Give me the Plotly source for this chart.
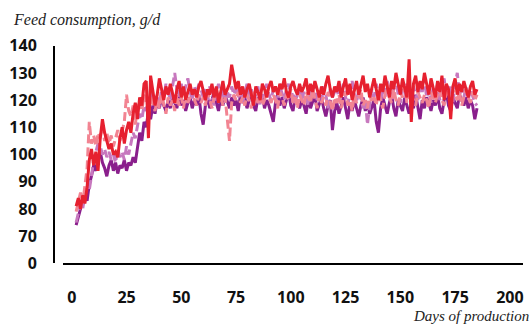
import plotly.graph_objects as go

# Day of production for every daily observation
days = list(range(2, 186))

# Daily feed consumption (g/d) per flock
red_solid = [
    81, 84, 80, 85, 82, 88, 98, 102, 96, 101, 94, 106, 113, 108,
    105, 102, 104, 100, 101, 99, 106, 110, 104, 109, 112, 108, 115, 119, 113,
    121, 118, 126, 127, 106, 129, 124, 118, 122, 128, 124, 120, 125, 122, 126,
    123, 119, 124, 127, 121, 125, 120, 123, 126, 122, 124, 121, 125, 127, 123,
    120, 124, 122, 126, 121, 125, 119, 123, 127, 122, 124, 126, 133, 128, 124,
    127, 122, 125, 121, 124, 126, 122, 118, 125, 123, 120, 126, 124, 121, 125,
    127, 123, 125, 122, 126, 124, 128, 123, 121, 125, 127, 124, 122, 126, 123,
    125, 128, 122, 126, 123, 127, 124, 121, 125, 122, 126, 129, 124, 121, 125,
    123, 127, 121, 125, 128, 122, 126, 120, 124, 127, 122, 125, 129, 123, 126,
    121, 125, 128, 124, 120, 126, 123, 129, 125, 121, 127, 124, 130, 126, 122,
    128, 125, 121, 135, 112, 126, 129, 123, 127, 124, 130, 126, 122, 128, 125,
    121, 127, 123, 129, 120, 126, 124, 113, 125, 128, 122, 126, 123, 127, 124,
    121, 125, 127, 122, 124,
]

purple_solid = [
    74, 77, 80, 84, 86, 83, 89, 92, 96, 94, 99, 101, 97, 95,
    92, 96, 98, 94, 97, 93, 96, 95, 98, 94, 97, 96, 99, 97, 103,
    108, 105, 112, 110, 116, 113, 118, 115, 120, 117, 121, 118, 116, 120, 117,
    121, 119, 117, 122, 118, 120, 116, 119, 121, 117, 120, 118, 122, 115, 111,
    118, 121, 117, 120, 123, 119, 116, 121, 118, 122, 119, 117, 121, 118, 120,
    116, 122, 119, 121, 117, 120, 123, 118, 116, 121, 119, 122, 117, 120, 118,
    115, 112, 119, 122, 118, 121, 117, 120, 123, 118, 116, 121, 119, 117, 120,
    118, 115, 121, 117, 120, 122, 116, 119, 121, 117, 114, 118, 120, 109, 116,
    119, 115, 118, 121, 117, 113, 119, 116, 120, 117, 114, 118, 121, 116, 119,
    115, 118, 120, 112, 108, 117, 121, 118, 115, 119, 122, 117, 114, 120, 118,
    116, 121, 118, 115, 119, 117, 122, 118, 113, 120, 117, 121, 119, 116, 120,
    118, 122, 117, 115, 120, 123, 118, 116, 121, 119, 117, 122, 120, 118, 121,
    117, 120, 118, 113, 117,
]

lilac_dashed = [
    75, 78, 82, 80, 85, 88, 87, 92, 98, 101, 104, 103, 100, 102,
    99, 101, 98, 100, 97, 102, 99, 101, 98, 103, 100, 104, 108, 106, 111,
    115, 113, 118, 116, 121, 119, 123, 120, 122, 118, 124, 121, 126, 123, 120,
    125, 130, 124, 121, 126, 122, 125, 128, 123, 120, 125, 122, 126, 124, 121,
    124, 120, 125, 122, 118, 123, 126, 121, 124, 119, 123, 121, 125, 122, 124,
    121, 125, 119, 123, 126, 121, 124, 120, 122, 125, 118, 123, 121, 126, 122,
    120, 124, 121, 119, 125, 122, 120, 124, 126, 121, 123, 119, 122, 125, 120,
    123, 121, 118, 124, 122, 126, 120, 123, 119, 125, 122, 117, 124, 121, 123,
    125, 120, 122, 126, 121, 118, 123, 127, 122, 119, 124, 121, 117, 120, 111,
    118, 124, 121, 126, 122, 119, 125, 121, 127, 123, 120, 124, 128, 122, 119,
    124, 121, 126, 123, 118, 125, 122, 120, 126, 123, 128, 121, 124, 119, 125,
    122, 126, 120, 124, 128, 121, 123, 125, 119, 126, 130, 122, 124, 121, 125,
    120, 124, 121, 119, 118,
]

pink_dashed = [
    79, 83, 86, 82, 88, 95, 112, 104, 107, 103, 108, 106, 110, 105,
    108, 104, 107, 103, 106, 109, 105, 108, 112, 122, 116, 114, 118, 111, 117,
    120, 116, 122, 119, 117, 121, 118, 116, 120, 117, 122, 119, 115, 121, 118,
    120, 116, 122, 118, 121, 117, 123, 119, 121, 124, 120, 118, 122, 119, 121,
    118, 123, 120, 117, 121, 124, 119, 122, 118, 121, 113, 105, 119, 122, 120,
    123, 119, 121, 118, 122, 120, 117, 123, 121, 119, 122, 118, 120, 124, 121,
    119, 122, 120, 117, 123, 121, 118, 122, 120, 124, 119, 121, 117, 122, 120,
    118, 123, 121, 119, 124, 120, 117, 122, 119, 121, 118, 123, 120, 116, 121,
    119, 122, 117, 121, 123, 118, 120, 116, 122, 119, 121, 124, 118, 120, 117,
    122, 119, 121, 118, 123, 120, 117, 122, 126, 121, 119, 124, 120, 118, 123,
    121, 125, 119, 122, 124, 120, 118, 123, 121, 119, 122, 120, 117, 123, 121,
    119, 122, 124, 120, 118, 123, 121, 119, 124, 122, 120, 123, 118, 121, 124,
    121, 119, 123, 120, 122,
]

# Broken y axis: the lowest gridline stands for 0
y_tickvals = [60, 70, 80, 90, 100, 110, 120, 130, 140]
y_ticktext = ["0", "70", "80", "90", "100", "110", "120", "130", "140"]
x_tickvals = [0, 25, 50, 75, 100, 125, 150, 175, 200]

W, H = 531, 325
fig = go.Figure()

series = [
    (purple_solid, "#8A1F8C", "solid"),
    (lilac_dashed, "#C778BE", "9px,4px"),
    (pink_dashed, "#F28492", "9px,4px"),
    (red_solid, "#E6202F", "solid"),
]
for vals, color, dash in series:
    fig.add_trace(go.Scatter(
        x=days, y=vals, mode="lines",
        line=dict(color=color, width=3, dash=dash),
        showlegend=False, hoverinfo="skip",
    ))

tick_font = dict(family="Open Sans, Arial, sans-serif", size=16, color="#111111", weight="bold")
title_font = dict(family="Liberation Serif, Times New Roman, serif", size=16, color="#222222", style="italic")
xlabel_font = dict(family="Liberation Serif, Times New Roman, serif", size=15, color="#222222", style="italic")

fig.update_layout(
    width=W, height=H,
    margin=dict(l=0, r=0, t=0, b=0, autoexpand=False),
    paper_bgcolor="white", plot_bgcolor="white",
    xaxis=dict(
        domain=[63 / W, 523 / W], range=[-4, 206],
        tickvals=x_tickvals, ticks="", showgrid=False, zeroline=False,
        showline=True, linecolor="black", linewidth=2,
        tickfont=tick_font, ticklabelstandoff=18, automargin=False,
    ),
    yaxis=dict(
        domain=[1 - 263.3 / H, 1 - 45.7 / H], range=[60, 140],
        tickvals=y_tickvals, ticktext=y_ticktext, ticks="",
        showgrid=False, zeroline=False,
        showline=True, linecolor="black", linewidth=2,
        anchor="free", position=54 / W,
        tickfont=tick_font, ticklabelstandoff=13, automargin=False,
    ),
    annotations=[
        dict(text="Feed consumption, g/d", xref="paper", yref="paper",
             x=11 / W, y=1 - 20 / H, xanchor="left", yanchor="middle",
             showarrow=False, font=title_font),
        dict(text="Days of production", xref="paper", yref="paper",
             x=1, y=1 - 316 / H, xanchor="right", yanchor="middle",
             showarrow=False, font=xlabel_font),
    ],
)

fig.write_html("out.html")
